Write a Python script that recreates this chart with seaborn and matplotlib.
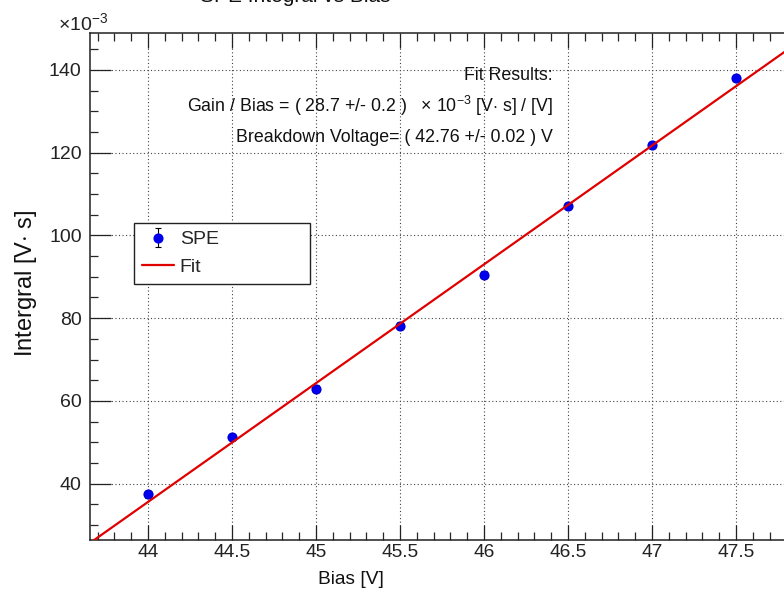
import numpy as np
import pandas as pd
import matplotlib
matplotlib.use("Agg")
import matplotlib.pyplot as plt
from matplotlib.ticker import MultipleLocator
import seaborn as sns

# ---- data (values in units of 1e-3 V*s) ----
bias = [44.0, 44.5, 45.0, 45.5, 46.0, 46.5, 47.0, 47.5]
integral = [37.4, 51.3, 63.0, 78.2, 90.5, 107.1, 121.8, 138.0]
integral_err = [0.8, 0.8, 0.8, 0.8, 0.8, 0.8, 0.8, 0.8]
gain_per_bias = 28.7        # x 1e-3 [V s]/[V]
breakdown_voltage = 42.76   # V
fit_range = [43.5, 48.0]
x_tick_labels = ["44", "44.5", "45", "45.5", "46", "46.5", "47", "47.5"]

sns.set_theme(style="ticks")
plt.rcParams["font.family"] = ["Liberation Sans", "DejaVu Sans"]
plt.rcParams["mathtext.fontset"] = "custom"
plt.rcParams["mathtext.rm"] = "Liberation Sans"
plt.rcParams["mathtext.it"] = "Liberation Sans:italic"
plt.rcParams["mathtext.bf"] = "Liberation Sans:bold"

W, H = 784, 597
fig = plt.figure(figsize=(W / 100, H / 100), dpi=100)
fig.patch.set_facecolor("white")

x_lo, x_hi = 43.655, 47.95
px_per_unit = 168.0
ax_left_px, ax_top_px, ax_bot_px = 90, 33, 540
ax_w_px = (x_hi - x_lo) * px_per_unit
ax_h_px = ax_bot_px - ax_top_px
ax = fig.add_axes([ax_left_px / W, 1 - ax_bot_px / H, ax_w_px / W, ax_h_px / H])
ax.set_facecolor("white")

df = pd.DataFrame({"bias": bias, "integral": integral, "err": integral_err})
fx = np.array(fit_range)
fit_df = pd.DataFrame({"bias": fx, "fit": gain_per_bias * (fx - breakdown_voltage)})

# error bars + markers
eb = ax.errorbar(df["bias"], df["integral"], yerr=df["err"], fmt="o", color="#0000ee",
                 ecolor="black", elinewidth=0.8, capsize=2.2, capthick=0.8,
                 markersize=6.3, label="SPE", zorder=3)
sns.scatterplot(data=df, x="bias", y="integral", ax=ax, color="#0000ee", s=40,
                edgecolor="#0000aa", linewidth=0.3, zorder=4, legend=False)
sns.lineplot(data=fit_df, x="bias", y="fit", ax=ax, color="#e00000", linewidth=1.6,
             label="Fit", zorder=5)

ax.set_xlim(x_lo, x_hi)
ax.set_ylim(26.4, 148.9)

ax.set_xticks([float(t) for t in x_tick_labels])
ax.set_xticklabels(x_tick_labels)
ax.xaxis.set_minor_locator(MultipleLocator(0.1))
ax.yaxis.set_major_locator(MultipleLocator(20))
ax.yaxis.set_minor_locator(MultipleLocator(5))

ax.tick_params(axis="x", which="major", direction="in", length=11, width=0.9,
               top=True, bottom=True, labelsize=13.8, pad=3, colors="#222222")
ax.tick_params(axis="x", which="minor", direction="in", length=5.5, width=0.9,
               top=True, bottom=True)
ax.tick_params(axis="y", which="major", direction="in", length=15, width=0.9,
               left=True, right=True, labelsize=14, pad=6, colors="#222222")
ax.tick_params(axis="y", which="minor", direction="in", length=6, width=0.9,
               left=True, right=True)

for s in ax.spines.values():
    s.set_color("#222222")
    s.set_linewidth(1.1)

ax.grid(True, which="major", linestyle=(0, (1, 2.2)), color="#444444", linewidth=0.8)
ax.set_axisbelow(True)

ax.set_xlabel("Bias [V]", fontsize=13.8, color="#111111")
ax.xaxis.set_label_coords((351 - ax_left_px) / ax_w_px, -(580 - ax_bot_px) / ax_h_px)
ax.xaxis.label.set_va("center")
ax.set_ylabel("Intergral [V$\\cdot$ s]", fontsize=17, color="#111111")
ax.yaxis.set_label_coords(-(ax_left_px - 26) / ax_w_px, (ax_bot_px - 283) / ax_h_px)
ax.yaxis.label.set_va("center")

# exponent label
fig.text(58 / W, 1 - 30 / H, r"$\times10^{-3}$", fontsize=14, color="#222222",
         ha="left", va="baseline")

# title (cut by the top of the image)
fig.text(295 / W, 1 - 1.5 / H, "SPE Integral vs Bias", fontsize=15, ha="center",
         va="baseline", color="#111111")

# fit results text
tx = 553 / W
fig.text(tx, 1 - 75 / H, "Fit Results:", fontsize=12.8, ha="right", va="center", color="#111111")
fig.text(tx, 1 - 106 / H, "Gain / Bias = ( %.1f +/- 0.2 )   \u00d7 10$^{-3}$ [V$\\cdot$ s] / [V]" % gain_per_bias,
         fontsize=12.8, ha="right", va="center", color="#111111")
fig.text(tx, 1 - 137 / H, "Breakdown Voltage= ( %.2f +/- 0.02 ) V" % breakdown_voltage,
         fontsize=12.8, ha="right", va="center", color="#111111")

# legend (SPE first, then Fit)
handles, labels = ax.get_legend_handles_labels()
order = [labels.index("SPE"), labels.index("Fit")]
lx0 = (134 - ax_left_px) / ax_w_px
lx1 = (310 - ax_left_px) / ax_w_px
ly1 = (ax_bot_px - 223) / ax_h_px
leg = ax.legend([handles[i] for i in order], [labels[i] for i in order],
                loc="upper left", bbox_to_anchor=(lx0, ly1 - 0.2, lx1 - lx0, 0.2),
                mode="expand", borderaxespad=0, fontsize=14, frameon=True,
                fancybox=False, shadow=False, handlelength=1.65, handletextpad=0.3,
                borderpad=0.4, labelspacing=0.5)
leg.get_frame().set_edgecolor("#222222")
leg.get_frame().set_linewidth(1.0)
leg.get_frame().set_alpha(1)

fig.savefig("out.png", dpi=100, facecolor="white")
